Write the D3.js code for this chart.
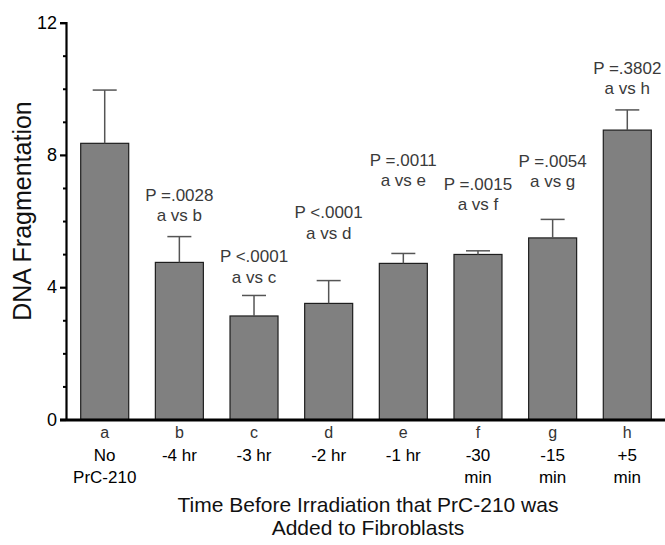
<!DOCTYPE html>
<html>
<head>
<meta charset="utf-8">
<script src="https://cdn.jsdelivr.net/npm/d3@7"></script>
<style>
  html, body { margin: 0; padding: 0; background: #fff; }
  svg { display: block; font-family: "Liberation Sans", Arial, sans-serif; }
</style>
</head>
<body>
<svg id="chart" width="665" height="545"></svg>
<script>
// ---- data ----
const categories = ["a", "b", "c", "d", "e", "f", "g", "h"];
const catLine2 = ["No", "-4 hr", "-3 hr", "-2 hr", "-1 hr", "-30", "-15", "+5"];
const catLine3 = ["PrC-210", "", "", "", "", "min", "min", "min"];
const values = [8.35, 4.75, 3.13, 3.51, 4.72, 4.99, 5.49, 8.75];
const errors = [1.61, 0.78, 0.62, 0.69, 0.30, 0.11, 0.56, 0.61];
const pLabels = ["", "P =.0028", "P <.0001", "P <.0001", "P =.0011", "P =.0015", "P =.0054", "P =.3802"];
const vsLabels = ["", "a vs b", "a vs c", "a vs d", "a vs e", "a vs f", "a vs g", "a vs h"];
const annotLevels = [null, 6.61, 4.76, 6.09, 7.67, 6.94, 7.64, 10.45];
const majorTicks = [0, 4, 8, 12];
const minorTicks = [1, 2, 3, 5, 6, 7, 9, 10, 11];
const yTitle = "DNA Fragmentation";
const xTitle = ["Time Before Irradiation that PrC-210 was", "Added to Fibroblasts"];

// ---- layout ----
const svg = d3.select("#chart");
const y = d3.scaleLinear().domain([0, 12]).range([419.5, 22.6]);
const x = d3.scaleBand().domain(categories).range([66, 666])
  .paddingInner(0.357).paddingOuter(0.197);
const cx = c => x(c) + x.bandwidth() / 2;

// bars
svg.append("g").selectAll("rect").data(categories).join("rect")
  .attr("x", c => x(c))
  .attr("y", (c, i) => y(values[i]))
  .attr("width", x.bandwidth())
  .attr("height", (c, i) => y(0) - y(values[i]))
  .attr("fill", "#808080")
  .attr("stroke", "#1e1e1e")
  .attr("stroke-width", 1.2);

// error bars
const eg = svg.append("g").attr("stroke", "#555").attr("stroke-width", 1.5);
categories.forEach((c, i) => {
  const top = y(values[i] + errors[i]);
  eg.append("line").attr("x1", cx(c)).attr("x2", cx(c))
    .attr("y1", y(values[i])).attr("y2", top);
  eg.append("line").attr("x1", cx(c) - 12).attr("x2", cx(c) + 12)
    .attr("y1", top).attr("y2", top);
});

// y axis (major)
const yAxis = d3.axisLeft(y).tickValues(majorTicks).tickSize(6).tickPadding(3)
  .tickFormat(d3.format("d"));
const yg = svg.append("g").attr("transform", "translate(66,0)").call(yAxis);
yg.select(".domain").attr("stroke", "#000").attr("stroke-width", 2.2);
yg.selectAll(".tick line").attr("stroke", "#000").attr("stroke-width", 2.2);
yg.selectAll(".tick text").attr("font-size", 18).attr("fill", "#000")
  .attr("font-family", "Liberation Sans, Arial, sans-serif");
// minor ticks
const ym = d3.axisLeft(y).tickValues(minorTicks).tickSize(3).tickFormat("");
const ymg = svg.append("g").attr("transform", "translate(66,0)").call(ym);
ymg.select(".domain").remove();
ymg.selectAll(".tick line").attr("stroke", "#000").attr("stroke-width", 2);

// x axis line
svg.append("line").attr("x1", 60).attr("x2", 665)
  .attr("y1", y(0) + 0.5).attr("y2", y(0) + 0.5)
  .attr("stroke", "#000").attr("stroke-width", 3);

// category labels
const lg = svg.append("g").attr("text-anchor", "middle").attr("font-size", 16);
categories.forEach((c, i) => {
  lg.append("text").attr("x", cx(c)).attr("y", 438).attr("fill", "#333").text(c);
  lg.append("text").attr("x", cx(c)).attr("y", 461).attr("fill", "#000")
    .attr("font-size", 17).text(catLine2[i]);
  if (catLine3[i]) lg.append("text").attr("x", cx(c)).attr("y", 483).attr("fill", "#000")
    .attr("font-size", 17).text(catLine3[i]);
});

// annotations
const ag = svg.append("g").attr("text-anchor", "middle").attr("font-size", 17).attr("fill", "#3a3a3a");
categories.forEach((c, i) => {
  if (annotLevels[i] == null) return;
  const by = y(annotLevels[i]);
  ag.append("text").attr("x", cx(c)).attr("y", by).text(pLabels[i]);
  ag.append("text").attr("x", cx(c)).attr("y", by + 20.5).text(vsLabels[i]);
});

// axis titles
svg.append("text").attr("transform", "translate(31,211) rotate(-90)")
  .attr("text-anchor", "middle").attr("font-size", 25).attr("fill", "#111").text(yTitle);
const tg = svg.append("g").attr("text-anchor", "middle").attr("font-size", 21).attr("fill", "#111");
tg.append("text").attr("x", 368).attr("y", 512).text(xTitle[0]);
tg.append("text").attr("x", 368).attr("y", 535).text(xTitle[1]);
</script>
</body>
</html>
